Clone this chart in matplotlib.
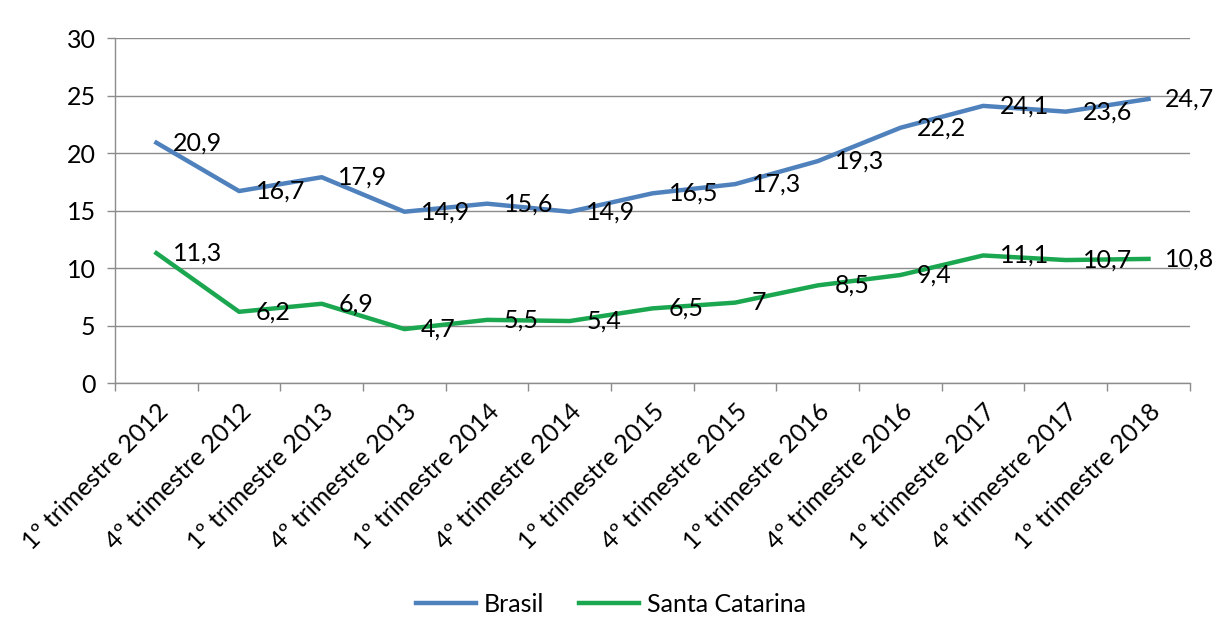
import matplotlib.pyplot as plt
import numpy as np

plt.rcParams['font.family'] = ['Lato', 'DejaVu Sans']

trimestres = [
    "1º trimestre 2012", "4º trimestre 2012", "1º trimestre 2013", "4º trimestre 2013",
    "1º trimestre 2014", "4º trimestre 2014", "1º trimestre 2015", "4º trimestre 2015",
    "1º trimestre 2016", "4º trimestre 2016", "1º trimestre 2017", "4º trimestre 2017",
    "1º trimestre 2018",
]
brasil = [20.9, 16.7, 17.9, 14.9, 15.6, 14.9, 16.5, 17.3, 19.3, 22.2, 24.1, 23.6, 24.7]
santa_catarina = [11.3, 6.2, 6.9, 4.7, 5.5, 5.4, 6.5, 7, 8.5, 9.4, 11.1, 10.7, 10.8]

AZUL = "#4F81BD"
VERDE = "#1BA650"
CINZA = "#8C8C8C"
FS = 18


def fmt(v):
    s = f"{v:g}"
    return s.replace(".", ",")


fig = plt.figure(figsize=(12.15, 6.19), dpi=100)
ax = fig.add_axes([0.0947, 0.381, 0.9843 - 0.0947 - 0.005, 0.5576])

x = np.arange(len(trimestres))
ax.plot(x, brasil, color=AZUL, lw=3.2, label="Brasil", solid_joinstyle="round")
ax.plot(x, santa_catarina, color=VERDE, lw=3.2, label="Santa Catarina", solid_joinstyle="round")

# rótulos de dados à direita de cada ponto
for serie in (brasil, santa_catarina):
    for xi, v in zip(x, serie):
        ax.annotate(fmt(v), (xi, v), xytext=(12, 0), textcoords="offset points",
                    ha="left", va="center", fontsize=FS, color="black")

ax.set_xlim(-0.5, len(trimestres) - 0.5)
ax.set_ylim(0, 30)
ax.set_yticks(range(0, 31, 5))
ax.yaxis.grid(True, color=CINZA, lw=1)
ax.set_axisbelow(True)

ax.set_xticks(x)
ax.set_xticklabels(trimestres, rotation=45, ha="right", va="top",
                   rotation_mode="anchor", fontsize=FS)
ax.set_xticks(np.arange(-0.5, len(trimestres)), minor=True)
ax.tick_params(axis="x", which="major", length=0, pad=12)
ax.tick_params(axis="x", which="minor", length=6, color=CINZA, width=1)
ax.tick_params(axis="y", length=6, color=CINZA, width=1, labelsize=FS, pad=8)

for lado in ("top", "right"):
    ax.spines[lado].set_visible(False)
for lado in ("left", "bottom"):
    ax.spines[lado].set_color(CINZA)
    ax.spines[lado].set_linewidth(1)

fig.legend(loc="center", bbox_to_anchor=(0.503, 0.024), ncol=2, frameon=False,
           fontsize=FS, handlelength=2.4, columnspacing=1.4, handletextpad=0.3)

fig.savefig("out.png", dpi=100)
